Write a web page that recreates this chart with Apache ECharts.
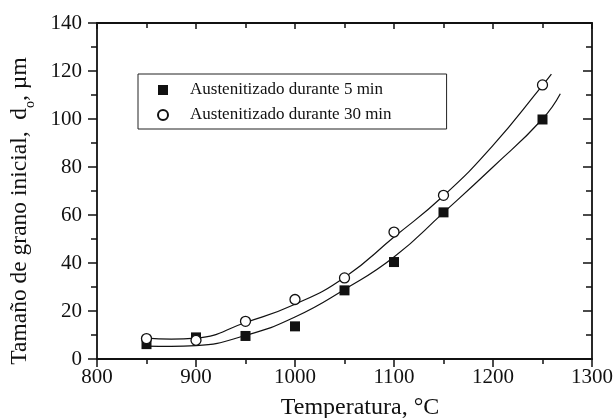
<!DOCTYPE html>
<html>
<head>
<meta charset="utf-8">
<script src="https://cdn.jsdelivr.net/npm/echarts@6/dist/echarts.min.js"></script>
<style>
  html, body { margin: 0; padding: 0; background: #ffffff; }
  #chart { width: 616px; height: 418px; }
</style>
</head>
<body>
<div id="chart"></div>
<script>
// Measured grain size vs austenitizing temperature
const temps = [850, 900, 950, 1000, 1050, 1100, 1150, 1250];
const grain5min = [6.2, 9.0, 9.6, 13.6, 28.6, 40.4, 61.1, 99.8];
const grain30min = [8.5, 7.8, 15.7, 24.8, 33.8, 52.9, 68.2, 114.2];

// Fitted trend curves
const fitTemps5 = [850, 875, 900, 950, 1000, 1050, 1100, 1150, 1200, 1250, 1268];
const fit5min = [5.4, 5.3, 5.6, 9.8, 17.5, 29.0, 42.5, 61.0, 80.0, 100.0, 110.5];
const fitTemps30 = [850, 875, 900, 950, 1000, 1050, 1100, 1150, 1200, 1250, 1259];
const fit30min = [8.7, 8.3, 8.7, 15.2, 22.8, 34.0, 50.8, 68.0, 89.0, 114.0, 118.7];

const xTicks = [800, 900, 1000, 1100, 1200, 1300];
const yTicks = [0, 20, 40, 60, 80, 100, 120, 140];
const seriesNames = ['Austenitizado durante 5 min', 'Austenitizado durante 30 min'];

const FONT = 'Liberation Serif';
const INK = '#111111';

const pairs = (xs, ys) => xs.map((x, i) => [x, ys[i]]);
const plain = v => String(v);

const xMin = xTicks[0], xMax = xTicks[xTicks.length - 1];
const xStep = xTicks[1] - xTicks[0];
const yMin = yTicks[0], yMax = yTicks[yTicks.length - 1];
const yStep = yTicks[1] - yTicks[0];

const lineAxis = { show: true, onZero: false, lineStyle: { color: INK, width: 1.8 } };

const chart = echarts.init(document.getElementById('chart'), null, { renderer: 'canvas' });

chart.setOption({
  backgroundColor: '#ffffff',
  animation: false,
  grid: { left: 97, right: 22, top: 23, bottom: 59, containLabel: false },
  xAxis: [
    {
      type: 'value', min: xMin, max: xMax, interval: xStep, position: 'bottom',
      axisLine: lineAxis,
      axisTick: { show: true, inside: false, length: 8, lineStyle: { color: INK, width: 1.5 } },
      minorTick: { show: true, splitNumber: 2, length: 5, lineStyle: { color: INK, width: 1.5 } },
      splitLine: { show: false },
      axisLabel: { color: INK, fontFamily: FONT, fontSize: 21, margin: 8, formatter: plain }
    },
    {
      type: 'value', min: xMin, max: xMax, interval: xStep, position: 'top',
      axisLine: lineAxis,
      axisTick: { show: true, inside: true, length: 6, lineStyle: { color: INK, width: 1.5 } },
      minorTick: { show: true, splitNumber: 2, length: 5, lineStyle: { color: INK, width: 1.5 } },
      splitLine: { show: false },
      axisLabel: { show: false }
    }
  ],
  yAxis: [
    {
      type: 'value', min: yMin, max: yMax, interval: yStep, position: 'left',
      axisLine: lineAxis,
      axisTick: { show: true, inside: false, length: 9, lineStyle: { color: INK, width: 1.5 } },
      minorTick: { show: true, splitNumber: 2, length: 6, lineStyle: { color: INK, width: 1.5 } },
      splitLine: { show: false },
      axisLabel: { color: INK, fontFamily: FONT, fontSize: 21, margin: 15, formatter: plain }
    },
    {
      type: 'value', min: yMin, max: yMax, interval: yStep, position: 'right',
      axisLine: lineAxis,
      axisTick: { show: true, inside: true, length: 9, lineStyle: { color: INK, width: 1.5 } },
      minorTick: { show: true, splitNumber: 2, length: 6, lineStyle: { color: INK, width: 1.5 } },
      splitLine: { show: false },
      axisLabel: { show: false }
    }
  ],
  legend: {
    orient: 'vertical', left: 138, top: 74,
    data: [
      { name: seriesNames[0], icon: 'rect' },
      { name: seriesNames[1], icon: 'circle' }
    ],
    itemWidth: 10, itemHeight: 10, itemGap: 7,
    padding: [7, 55, 5, 19],
    borderColor: '#222222', borderWidth: 1,
    selectedMode: false,
    textStyle: { fontFamily: FONT, fontSize: 17, color: INK, lineHeight: 18, padding: [0, 0, 0, 17] }
  },
  graphic: [
    {
      type: 'text', x: 360, y: 408,
      style: {
        text: 'Temperatura, °C', fill: INK,
        font: '24px "Liberation Serif"', textAlign: 'center', textVerticalAlign: 'middle'
      }
    },
    {
      type: 'text', x: 21, y: 211, rotation: Math.PI / 2,
      style: {
        text: '{m|Tamaño de grano inicial,  d}{s|o}{m|, µm}',
        fill: INK, textAlign: 'center', textVerticalAlign: 'middle',
        rich: {
          m: { fontFamily: FONT, fontSize: 23.5, lineHeight: 27, verticalAlign: 'top', fill: INK },
          s: { fontFamily: FONT, fontSize: 14, lineHeight: 14, verticalAlign: 'top', padding: [16, 0, 0, 0], fill: INK }
        }
      }
    }
  ],
  series: [
    {
      name: 'fit5', type: 'line', data: pairs(fitTemps5, fit5min),
      smooth: 0.5, showSymbol: false, silent: true, z: 2,
      lineStyle: { color: INK, width: 1.2 }
    },
    {
      name: 'fit30', type: 'line', data: pairs(fitTemps30, fit30min),
      smooth: 0.5, showSymbol: false, silent: true, z: 2,
      lineStyle: { color: INK, width: 1.2 }
    },
    {
      name: seriesNames[0], type: 'scatter', data: pairs(temps, grain5min),
      symbol: 'rect', symbolSize: 10, z: 3,
      itemStyle: { color: INK, opacity: 1 }
    },
    {
      name: seriesNames[1], type: 'scatter', data: pairs(temps, grain30min),
      symbol: 'circle', symbolSize: 10, z: 4,
      itemStyle: { color: '#ffffff', borderColor: INK, borderWidth: 1.3, opacity: 1 }
    }
  ]
});
</script>
</body>
</html>
